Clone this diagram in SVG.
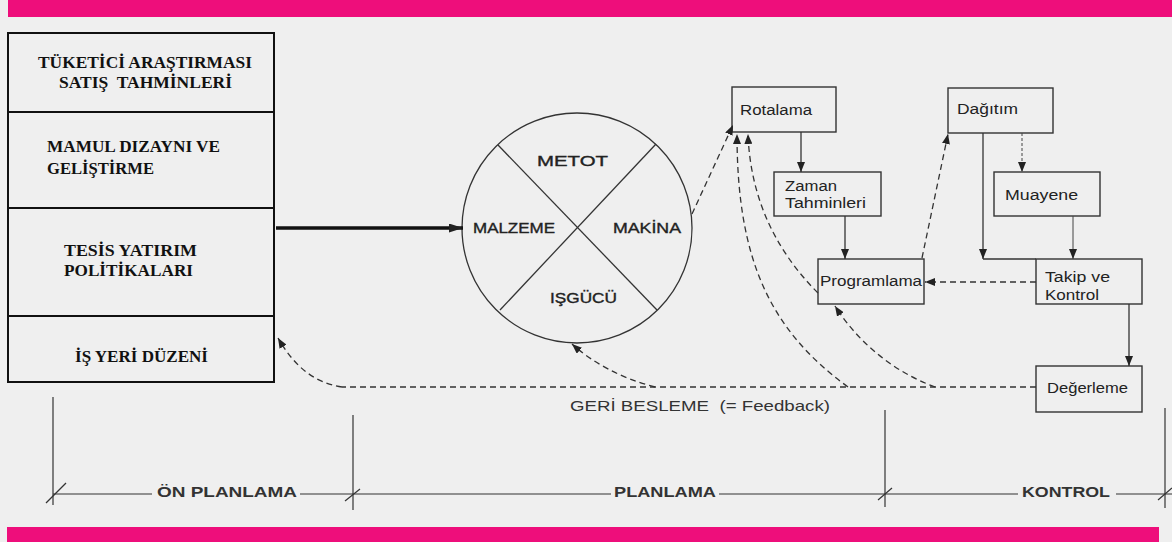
<svg xmlns="http://www.w3.org/2000/svg" width="1172" height="542" viewBox="0 0 1172 542">
<defs>
<style>
.bg{fill:#efefef}
.pink{fill:#ee0e7b}
.lbox{fill:none;stroke:#111;stroke-width:2}
.box{fill:none;stroke:#333;stroke-width:1.4}
.serif{font-family:"Liberation Serif","Times New Roman",serif;font-weight:bold;font-size:17.5px;fill:#111}
.sans{font-family:"Liberation Sans",Arial,sans-serif;font-size:14px;fill:#222}
.circ{font-family:"Liberation Sans",Arial,sans-serif;font-size:14px;fill:#222;stroke:#222;stroke-width:0.35}
.tl{font-family:"Liberation Sans",Arial,sans-serif;font-weight:bold;font-size:15px;fill:#333}
.fb{font-family:"Liberation Sans",Arial,sans-serif;font-size:15px;fill:#333}
.ln{fill:none;stroke:#333;stroke-width:1.3}
.thin{fill:none;stroke:#444;stroke-width:1}
.dash{fill:none;stroke:#333;stroke-width:1.3;stroke-dasharray:6 4}
.dot{fill:none;stroke:#444;stroke-width:1;stroke-dasharray:3 2}
.tline{fill:none;stroke:#333;stroke-width:1.2}
</style>
<marker id="ah" viewBox="0 0 10 8" refX="10" refY="4" markerWidth="10" markerHeight="8" orient="auto" markerUnits="userSpaceOnUse">
<path d="M0,0 L10,4 L0,8 z" fill="#222"/>
</marker>
<marker id="ahb" viewBox="0 0 14 9" refX="14" refY="4.5" markerWidth="14" markerHeight="9" orient="auto" markerUnits="userSpaceOnUse">
<path d="M0,0 L14,4.5 L0,9 z" fill="#222"/>
</marker>
</defs>
<rect class="bg" x="0" y="0" width="1172" height="542"/>
<rect class="pink" x="8" y="0" width="1164" height="17"/>
<rect class="pink" x="7" y="527" width="1152" height="15"/>

<g id="planning-areas">
<rect class="lbox" x="8" y="33" width="266" height="349"/>
<line class="lbox" x1="8" y1="112" x2="274" y2="112"/>
<line class="lbox" x1="8" y1="208" x2="274" y2="208"/>
<line class="lbox" x1="8" y1="316" x2="274" y2="316"/>
<text class="serif" x="38" y="68" textLength="214" lengthAdjust="spacingAndGlyphs">TÜKETİCİ ARAŞTIRMASI</text>
<text class="serif" x="59" y="88" textLength="173" lengthAdjust="spacingAndGlyphs" xml:space="preserve">SATIŞ  TAHMİNLERİ</text>
<text class="serif" x="47" y="152" textLength="173" lengthAdjust="spacingAndGlyphs">MAMUL DIZAYNI VE</text>
<text class="serif" x="47" y="174" textLength="107" lengthAdjust="spacingAndGlyphs">GELİŞTİRME</text>
<text class="serif" x="64" y="256" textLength="133" lengthAdjust="spacingAndGlyphs" style="font-size:16.5px">TESİS YATIRIM</text>
<text class="serif" x="64" y="276" textLength="129" lengthAdjust="spacingAndGlyphs" style="font-size:16.5px">POLİTİKALARI</text>
<text class="serif" x="75" y="362" textLength="133" lengthAdjust="spacingAndGlyphs">İŞ YERİ DÜZENİ</text>
</g>

<g id="resources">
<circle class="ln" cx="577" cy="228" r="115"/>
<line class="ln" x1="498" y1="145" x2="657" y2="310"/>
<line class="ln" x1="656" y1="144" x2="500" y2="310"/>
<text class="circ" x="537" y="166" textLength="71" lengthAdjust="spacingAndGlyphs">METOT</text>
<text class="circ" x="473" y="233" textLength="82" lengthAdjust="spacingAndGlyphs">MALZEME</text>
<text class="circ" x="613" y="233" textLength="68" lengthAdjust="spacingAndGlyphs">MAKİNA</text>
<text class="circ" x="550" y="303" textLength="67" lengthAdjust="spacingAndGlyphs">IŞGÜCÜ</text>
</g>

<g id="rotalama">
<rect class="box" x="732" y="87" width="104" height="45"/>
<text class="sans" x="740" y="115" textLength="72" lengthAdjust="spacingAndGlyphs">Rotalama</text>
</g>
<g id="zaman">
<rect class="box" x="774" y="172" width="107" height="44"/>
<text class="sans" x="785" y="191" textLength="52" lengthAdjust="spacingAndGlyphs">Zaman</text>
<text class="sans" x="785" y="208" textLength="81" lengthAdjust="spacingAndGlyphs">Tahminleri</text>
</g>
<g id="programlama">
<rect class="box" x="818" y="259" width="106" height="45"/>
<text class="sans" x="820" y="286" textLength="102" lengthAdjust="spacingAndGlyphs">Programlama</text>
</g>
<g id="dagitim">
<rect class="box" x="948" y="88" width="105" height="45"/>
<text class="sans" x="957" y="114" textLength="61" lengthAdjust="spacingAndGlyphs">Dağıtım</text>
</g>
<g id="muayene">
<rect class="box" x="994" y="172" width="106" height="44"/>
<text class="sans" x="1005" y="200" textLength="73" lengthAdjust="spacingAndGlyphs">Muayene</text>
</g>
<g id="takip">
<rect class="box" x="1036" y="259" width="106" height="45"/>
<text class="sans" x="1045" y="282" textLength="65" lengthAdjust="spacingAndGlyphs">Takip ve</text>
<text class="sans" x="1045" y="300" textLength="54" lengthAdjust="spacingAndGlyphs">Kontrol</text>
</g>
<g id="degerleme">
<rect class="box" x="1036" y="366" width="106" height="46"/>
<text class="sans" x="1047" y="393" textLength="81" lengthAdjust="spacingAndGlyphs">Değerleme</text>
</g>

<g id="connectors">
<line x1="276" y1="228" x2="463" y2="228" stroke="#111" stroke-width="3.5" marker-end="url(#ahb)"/>
<path class="dash" d="M692,214 L733,125" stroke-dasharray="7 3" marker-end="url(#ah)"/>
<path class="ln" d="M801,132 L801,172" marker-end="url(#ah)"/>
<path class="ln" d="M845,216 L845,259" marker-end="url(#ah)"/>
<path class="dash" d="M922,258 L948,134" stroke-dasharray="9 3" marker-end="url(#ah)"/>
<path class="dot" d="M1022,133 L1022,172" marker-end="url(#ah)"/>
<path class="ln" d="M983,133 L983,259" marker-end="url(#ah)"/>
<path class="ln" d="M983,259 L1036,259"/>
<path class="thin" d="M1073,216 L1073,259" marker-end="url(#ah)"/>
<path class="dash" d="M1036,282 L925,282" marker-end="url(#ah)"/>
<path class="ln" d="M1129,304 L1129,366" marker-end="url(#ah)"/>
<path class="dash" d="M1036,387 L342,387"/>
<path class="dash" d="M342,387 C310,382 292,362 278,338" marker-end="url(#ah)"/>
<path class="dash" d="M655,387 C620,378 592,362 572,344" marker-end="url(#ah)"/>
<path class="dash" d="M848,387 C770,330 737,260 737,134" marker-end="url(#ah)"/>
<path class="dash" d="M818,293 C770,245 750,190 748,134" marker-end="url(#ah)"/>
<path class="dash" d="M935,387 C895,372 860,345 835,306" marker-end="url(#ah)"/>
<text class="fb" x="570" y="411" textLength="260" lengthAdjust="spacingAndGlyphs" xml:space="preserve">GERİ BESLEME  (= Feedback)</text>
</g>

<g id="timeline">
<line class="tline" x1="53" y1="397" x2="53" y2="505"/>
<line class="tline" x1="353" y1="415" x2="353" y2="510"/>
<line class="tline" x1="885" y1="410" x2="885" y2="507"/>
<line class="tline" x1="1165" y1="408" x2="1165" y2="508"/>
<line class="tline" x1="53" y1="494" x2="152" y2="494"/>
<line class="tline" x1="300" y1="494" x2="611" y2="494"/>
<line class="tline" x1="719" y1="494" x2="1018" y2="494"/>
<line class="tline" x1="1116" y1="494" x2="1172" y2="494"/>
<line class="tline" x1="46" y1="503" x2="66" y2="483"/>
<line class="tline" x1="345" y1="501" x2="360" y2="489"/>
<line class="tline" x1="878" y1="500" x2="892" y2="488"/>
<line class="tline" x1="1158" y1="500" x2="1172" y2="488"/>
<text class="tl" x="157" y="497" textLength="140" lengthAdjust="spacingAndGlyphs">ÖN PLANLAMA</text>
<text class="tl" x="614" y="497" textLength="102" lengthAdjust="spacingAndGlyphs">PLANLAMA</text>
<text class="tl" x="1022" y="497" textLength="88" lengthAdjust="spacingAndGlyphs">KONTROL</text>
</g>
</svg>
